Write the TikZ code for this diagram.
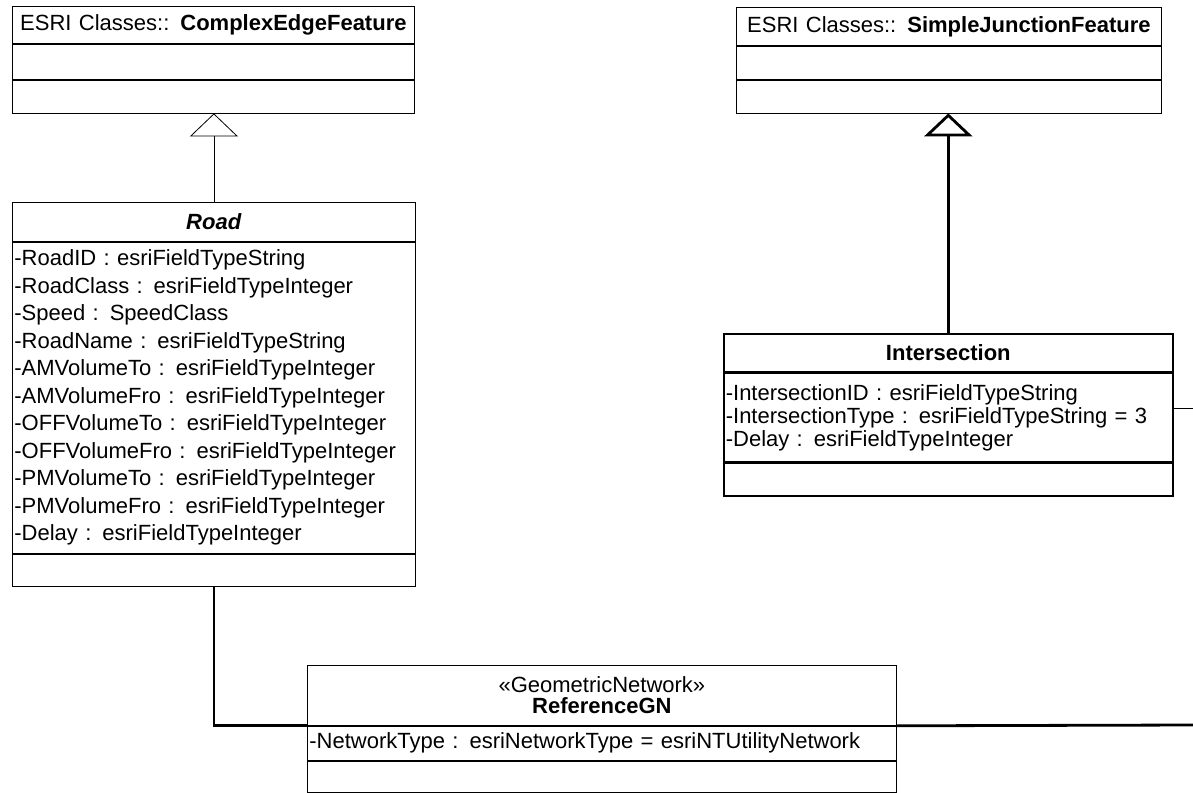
\documentclass[tikz,border=0pt]{standalone}
\usepackage{fontspec}
\setmainfont{Liberation Sans}
\usetikzlibrary{arrows.meta,positioning}

\begin{document}
\begin{tikzpicture}[x=1pt,y=-1pt,>=Latex,
  font=\fontsize{22}{27.5}\selectfont,
  box/.style={draw,line width=0.8pt,inner xsep=2pt,inner ysep=0pt,text width=#1},
  heavy/.style={line width=1.6pt},
  gen/.style={-{Triangle[open,fill=white,length=23pt,width=48pt]}},
  assoc/.style={line width=2.8pt}]
  \useasboundingbox (0,0) rectangle (1193,792);
  \node[box=398pt,minimum height=37pt,align=center,anchor=north west] (cef) at (12,6) {ESRI Classes:: \textbf{ComplexEdgeFeature}};
  \node[box=398pt,minimum height=35pt,below=0pt of cef] (cef-a) {};
  \node[box=398pt,minimum height=33pt,below=0pt of cef-a] (cef-o) {};
  \node[box=421pt,minimum height=38pt,align=center,anchor=north west] (sjf) at (736,7) {ESRI Classes:: \textbf{SimpleJunctionFeature}};
  \node[box=421pt,minimum height=33pt,below=0pt of sjf] (sjf-a) {};
  \node[box=421pt,minimum height=33pt,below=0pt of sjf-a] (sjf-o) {};
  \node[box=399pt,minimum height=39pt,align=center,anchor=north west] (road) at (12,202) {\textbf{\textit{Road}}};
  \node[box=399pt,minimum height=311pt,align=left,below=0pt of road] (road-a) {-RoadID : esriFieldTypeString\\
    -RoadClass : esriFieldTypeInteger\\
    -Speed : SpeedClass\\
    -RoadName : esriFieldTypeString\\
    -AMVolumeTo : esriFieldTypeInteger\\
    -AMVolumeFro : esriFieldTypeInteger\\
    -OFFVolumeTo : esriFieldTypeInteger\\
    -OFFVolumeFro : esriFieldTypeInteger\\
    -PMVolumeTo : esriFieldTypeInteger\\
    -PMVolumeFro : esriFieldTypeInteger\\
    -Delay : esriFieldTypeInteger};
  \node[box=399pt,minimum height=32pt,below=0pt of road-a] (road-o) {};
  \node[box=445pt,heavy,minimum height=38pt,align=center,anchor=north west] (isect) at (723,333) {\textbf{Intersection}};
  \node[box=445pt,heavy,minimum height=88pt,align=left,font=\fontsize{22}{23}\selectfont,below=0pt of isect] (isect-a) {-IntersectionID : esriFieldTypeString\\
    -IntersectionType : esriFieldTypeString = 3\\
    -Delay : esriFieldTypeInteger};
  \node[box=445pt,heavy,minimum height=33pt,below=0pt of isect-a] (isect-o) {};
  \node[box=585pt,minimum height=60pt,align=center,font=\fontsize{22}{21}\selectfont,anchor=north west] (gn) at (307,665) {«GeometricNetwork»\\\textbf{ReferenceGN}};
  \node[box=585pt,minimum height=34pt,align=left,below=0pt of gn] (gn-a) {-NetworkType : esriNetworkType = esriNTUtilityNetwork};
  \node[box=585pt,minimum height=31pt,below=0pt of gn-a] (gn-o) {};
  \coordinate (netR) at (1193,725);
  \coordinate (isectR) at (1193,408);
  \draw[gen,line width=0.8pt] (road.north) -- (road.north |- cef-o.south);
  \draw[gen,assoc] (isect.north) -- (isect.north |- sjf-o.south);
  \draw[assoc] (road-o.south) |- (gn.south west);
  \draw[assoc] (gn.south east) -- (netR);
  \draw[line width=0.8pt] (isectR -| isect-a.east) -- (isectR);
\end{tikzpicture}
\end{document}
